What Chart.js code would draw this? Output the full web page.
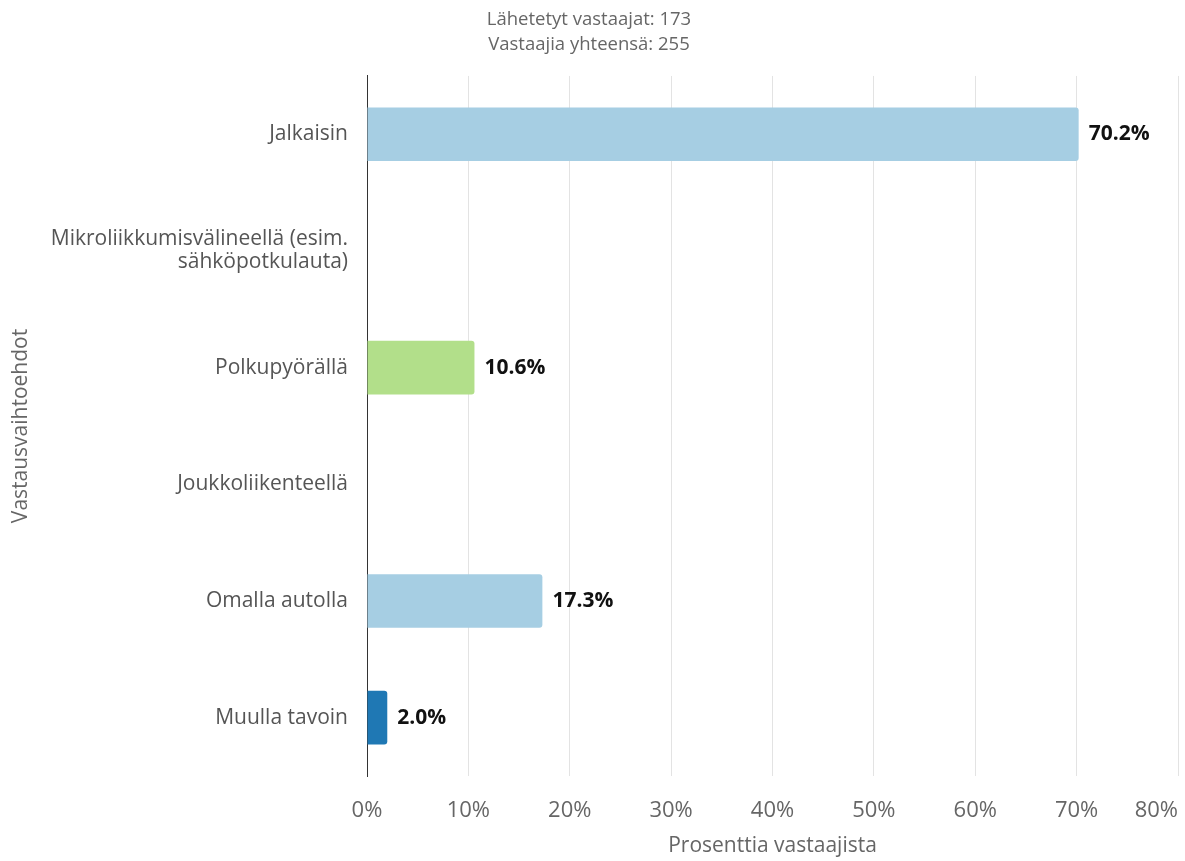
<!DOCTYPE html>
<html>
<head>
<meta charset="utf-8">
<script src="https://cdn.jsdelivr.net/npm/chart.js@4"></script>
<style>
  html, body { margin: 0; padding: 0; background: #fff; }
  #wrap { width: 1185px; height: 861px; }
</style>
</head>
<body>
<div id="wrap"><canvas id="chart"></canvas></div>
<script>
// data
const categories = [
  'Jalkaisin',
  ['Mikroliikkumisvälineellä (esim.', 'sähköpotkulauta)'],
  'Polkupyörällä',
  'Joukkoliikenteellä',
  'Omalla autolla',
  'Muulla tavoin'
];
const percentages = [70.2, 0, 10.6, 0, 17.3, 2.0];
const barColors = ['#a6cee3', '#a6cee3', '#b2df8a', '#b2df8a', '#a6cee3', '#1f78b4'];
const tickMax = 80;
const tickStep = 10;
const titleLines = ['Lähetetyt vastaajat: 173', 'Vastaajia yhteensä: 255'];
const xTitle = 'Prosenttia vastaajista';
const yTitle = 'Vastausvaihtoehdot';

const FONT = "'Open Sans', sans-serif";

// value labels at the end of each bar
const barLabels = {
  id: 'barLabels',
  afterDatasetsDraw(chart) {
    const ctx = chart.ctx;
    const meta = chart.getDatasetMeta(0);
    ctx.save();
    ctx.font = 'bold 21px ' + FONT;
    ctx.fillStyle = '#111';
    ctx.textAlign = 'left';
    ctx.textBaseline = 'middle';
    meta.data.forEach((bar, i) => {
      const v = percentages[i];
      if (!v) return;
      ctx.fillText(v.toFixed(1) + '%', bar.x + 10, bar.y);
    });
    ctx.restore();
  }
};

// last x tick label sits inside the plot edge (right aligned)
const lastTick = {
  id: 'lastTick',
  afterDraw(chart) {
    const scale = chart.scales.x;
    const items = scale.getLabelItems();
    const last = items[items.length - 1];
    if (!last) return;
    const ctx = chart.ctx;
    ctx.save();
    ctx.font = last.font.string;
    ctx.fillStyle = '#666';
    ctx.textAlign = 'right';
    ctx.textBaseline = last.options.textBaseline;
    ctx.fillText(last.label, chart.chartArea.right, last.options.translation[1] + last.textOffset);
    ctx.restore();
  }
};

new Chart(document.getElementById('chart'), {
  type: 'bar',
  data: {
    labels: categories,
    datasets: [{
      data: percentages,
      backgroundColor: barColors,
      borderRadius: 3,
      borderSkipped: 'start',
      barPercentage: 0.46,
      categoryPercentage: 1
    }]
  },
  plugins: [barLabels, lastTick],
  options: {
    indexAxis: 'y',
    responsive: true,
    maintainAspectRatio: false,
    animation: false,
    layout: { padding: { left: 0, right: 7, top: 0, bottom: 0 } },
    plugins: {
      legend: { display: false },
      tooltip: { enabled: false },
      title: {
        display: true,
        text: titleLines,
        color: '#666',
        font: { family: FONT, size: 18.5, weight: 'normal', lineHeight: 1.35 },
        padding: { top: 7.5, bottom: 18.5 }
      }
    },
    scales: {
      x: {
        min: 0,
        max: tickMax,
        ticks: {
          stepSize: tickStep,
          callback: v => v + '%',
          color: c => c.index === tickMax / tickStep ? 'rgba(0,0,0,0)' : '#666',
          font: { family: FONT, size: 22 },
          padding: 22,
          maxRotation: 0
        },
        grid: { color: '#e3e3e3', drawTicks: false },
        border: { display: false },
        title: {
          display: true,
          text: xTitle,
          color: '#666',
          font: { family: FONT, size: 21 },
          padding: { top: 0, bottom: 2 }
        },
        afterFit: s => { s.height = 85; s.paddingRight = 0; }
      },
      y: {
        ticks: {
          color: '#555',
          font: { family: FONT, size: 21, lineHeight: 1.1 },
          padding: 19
        },
        grid: { display: false, drawTicks: false },
        border: { display: true, color: '#333', width: 1 },
        title: {
          display: true,
          text: yTitle,
          color: '#666',
          font: { family: FONT, size: 21 },
          padding: { top: 8, bottom: 0 }
        },
        afterFit: s => { s.width = 367; }
      }
    }
  }
});
</script>
</body>
</html>
